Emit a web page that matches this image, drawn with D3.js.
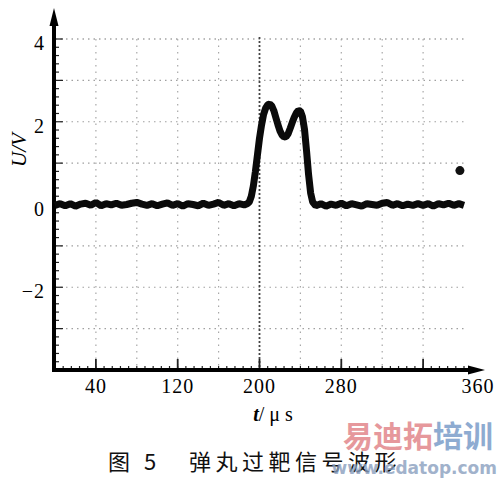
<!DOCTYPE html>
<html>
<head>
<meta charset="utf-8">
<script src="https://cdn.jsdelivr.net/npm/d3@7"></script>
<style>
  body { margin: 0; background: #fff; }
  svg { display: block; }
  .tickLabel { font-family: "Liberation Serif", "DejaVu Serif", serif; font-size: 20px; fill: #000; letter-spacing: 1px; }
</style>
</head>
<body>
<div id="chart"></div>
<script>
// Data

var timeUs = [0, 5, 10, 15, 20, 25, 30, 35, 40, 45, 50, 55, 60, 65, 70, 75, 80, 85, 90, 95,
  100, 105, 110, 115, 120, 125, 130, 135, 140, 145, 150, 155, 160, 165, 170, 175, 180, 185,
  188, 190, 192, 194, 196, 198, 200, 202, 204, 206, 208, 210, 212, 214, 216, 218, 220,
  222, 224, 226, 228, 230, 232, 234, 236, 238, 240, 242, 244, 246, 248, 250, 252,
  255, 260, 265, 270, 275, 280, 285, 290, 295, 300, 305, 310, 315, 320, 325, 330, 335,
  340, 345, 350, 355, 360, 365, 370, 375, 380, 385, 390, 395, 400];

var voltage = [-0.02, 0.02, -0.03, 0.02, -0.04, 0.01, 0.03, -0.02, 0.05, -0.03, 0.02, -0.01, 0.03, -0.02, 0.0, 0.03, 0.05, 0.01, -0.02, 0.02,
  -0.03, 0.01, 0.04, -0.02, 0.02, -0.04, 0.02, 0.0, -0.03, 0.03, -0.02, 0.01, 0.05, -0.02, 0.02, -0.03, 0.02, -0.01,
  0.02, 0.06, 0.2, 0.45, 0.8, 1.2, 1.6, 1.92, 2.18, 2.33, 2.41, 2.43, 2.38, 2.27, 2.1, 1.93, 1.78,
  1.68, 1.63, 1.64, 1.71, 1.84, 1.98, 2.11, 2.21, 2.27, 2.26, 2.12, 1.82, 1.3, 0.72, 0.28, 0.06,
  -0.03, 0.02, -0.04, 0.01, -0.02, 0.03, -0.03, 0.02, -0.01, -0.04, 0.02, 0.0, -0.02, 0.03, 0.05, -0.02, 0.02,
  -0.03, 0.01, -0.02, 0.02, -0.02, 0.02, -0.04, 0.02, -0.01, 0.03, -0.02, 0.02, -0.02];

var markerPoint = [396, 0.82];

var xTickValues = [40, 120, 200, 280, 360];
var xTickLabels = ['40', '120', '200', '280', '360'];
var yTickValues = [4, 2, 0, -2];
var yTickLabels = ['4', '2', '0', '\u22122'];
var xGridValues = [40, 80, 120, 160, 240, 280, 320, 360];
var yGridValues = [4, 3, 2, 1, -1, -2, -3];

// Set up the chart area

var svgWidth = 502;
var svgHeight = 479;

var svg = d3.select('#chart')
  .append('svg')
  .attr('width', svgWidth)
  .attr('height', svgHeight);

var xScale = d3.scaleLinear().domain([0, 400]).range([55, 464]);
var yScale = d3.scaleLinear().domain([-4, 4]).range([370, 39]);

// dotted grid
var grid = svg.append('g').attr('class', 'grid');

grid.selectAll('line.h')
  .data(yGridValues)
  .enter()
  .append('line')
  .attr('x1', xScale(0))
  .attr('x2', xScale(400))
  .attr('y1', function(d){ return yScale(d); })
  .attr('y2', function(d){ return yScale(d); })
  .attr('stroke', function(d){ return d === 4 ? '#777' : '#a0a0a0'; })
  .attr('stroke-width', 1.2)
  .attr('stroke-dasharray', '1.5,4');

grid.selectAll('line.v')
  .data(xGridValues)
  .enter()
  .append('line')
  .attr('x1', function(d){ return xScale(d); })
  .attr('x2', function(d){ return xScale(d); })
  .attr('y1', yScale(4))
  .attr('y2', yScale(-4))
  .attr('stroke', '#a8a8a8')
  .attr('stroke-width', 1.2)
  .attr('stroke-dasharray', '1.5,5');

// trigger line at 200 is darker
grid.append('line')
  .attr('x1', xScale(200))
  .attr('x2', xScale(200))
  .attr('y1', yScale(4) - 2)
  .attr('y2', yScale(-4))
  .attr('stroke', '#444')
  .attr('stroke-width', 1.8)
  .attr('stroke-dasharray', '2,2');

// minor ticks along axes
var yMinor = d3.range(-40, 41, 2).map(function(v){ return v / 10; });
svg.append('g').selectAll('line')
  .data(yMinor)
  .enter()
  .append('line')
  .attr('x1', xScale(0))
  .attr('x2', function(d){ return xScale(0) + (d % 1 === 0 ? 8 : 4); })
  .attr('y1', function(d){ return yScale(d); })
  .attr('y2', function(d){ return yScale(d); })
  .attr('stroke', '#222')
  .attr('stroke-width', 1.2);

var xMinor = d3.range(0, 401, 8);
svg.append('g').selectAll('line')
  .data(xMinor)
  .enter()
  .append('line')
  .attr('x1', function(d){ return xScale(d); })
  .attr('x2', function(d){ return xScale(d); })
  .attr('y1', yScale(-4))
  .attr('y2', yScale(-4) - 4)
  .attr('stroke', '#222')
  .attr('stroke-width', 1.2);

svg.append('g').selectAll('line')
  .data(xTickValues)
  .enter()
  .append('line')
  .attr('x1', function(d){ return xScale(d); })
  .attr('x2', function(d){ return xScale(d); })
  .attr('y1', yScale(-4))
  .attr('y2', yScale(-4) - 11)
  .attr('stroke', '#222')
  .attr('stroke-width', 1.8);

// axes lines with arrows
svg.append('line')
  .attr('x1', 54).attr('x2', 54)
  .attr('y1', 372).attr('y2', 18)
  .attr('stroke', '#000').attr('stroke-width', 4);
svg.append('path')
  .attr('d', 'M54,8 L49.5,26 L58.5,26 Z')
  .attr('fill', '#000');

svg.append('line')
  .attr('x1', 52).attr('x2', 474)
  .attr('y1', 370).attr('y2', 370)
  .attr('stroke', '#000').attr('stroke-width', 4);
svg.append('path')
  .attr('d', 'M485,370 L468,365.5 L468,374.5 Z')
  .attr('fill', '#000');

// signal trace
var line = d3.line()
  .x(function(d){ return xScale(d[0]); })
  .y(function(d){ return yScale(d[1]); });

var signal = timeUs.map(function(t, i){ return [t, voltage[i]]; });

svg.append('path')
  .datum(signal)
  .attr('d', line)
  .attr('fill', 'none')
  .attr('stroke', '#0a0a0a')
  .attr('stroke-width', 7)
  .attr('stroke-linejoin', 'bevel')
  .attr('stroke-linecap', 'butt');

svg.append('circle')
  .attr('cx', xScale(markerPoint[0]))
  .attr('cy', yScale(markerPoint[1]))
  .attr('r', 4.5)
  .attr('fill', '#111');

// tick labels
svg.append('g').selectAll('text')
  .data(xTickValues)
  .enter()
  .append('text')
  .attr('class', 'tickLabel')
  .attr('x', function(d, i){ return i === xTickValues.length - 1 ? 478 : xScale(d); })
  .attr('y', 393)
  .attr('text-anchor', 'middle')
  .text(function(d, i){ return xTickLabels[i]; });

svg.append('g').selectAll('text')
  .data(yTickValues)
  .enter()
  .append('text')
  .attr('class', 'tickLabel')
  .attr('x', 45)
  .attr('y', function(d){ return yScale(d) + 11; })
  .attr('text-anchor', 'end')
  .text(function(d, i){ return yTickLabels[i]; });

// axis titles
svg.append('text')
  .attr('transform', 'translate(26,150)rotate(-90)')
  .attr('text-anchor', 'middle')
  .style('font-family', '"Liberation Serif", serif')
  .style('font-style', 'italic')
  .style('font-size', '21px')
  .text('U/V');

var xTitle = svg.append('text')
  .attr('x', 273)
  .attr('y', 421)
  .attr('text-anchor', 'middle')
  .style('font-family', '"Liberation Serif", serif')
  .style('font-size', '20px');
xTitle.append('tspan').style('font-style', 'italic').style('font-weight', 'bold').text('t');
xTitle.append('tspan').text('/ \u03bc s');

// caption
svg.append('text')
  .attr('x', 108)
  .attr('y', 470)
  .style('font-family', '"Noto Sans CJK SC", sans-serif')
  .style('font-size', '22px')
  .style('letter-spacing', '4.5px')
  .style('fill', '#111')
  .text('图\u00a05\u00a0\u00a0\u00a0弹丸过靶信号波形');

// watermark
var wm = svg.append('g').attr('opacity', 0.8);
var wmTitle = wm.append('text')
  .attr('x', 343)
  .attr('y', 447)
  .style('font-family', '"Noto Sans CJK SC", sans-serif')
  .style('font-weight', 'bold')
  .style('font-size', '30px');
wmTitle.append('tspan').style('fill', '#e07f84').text('易迪拓');
wmTitle.append('tspan').style('fill', '#7397c6').text('培训');

wm.append('text')
  .attr('x', 497)
  .attr('y', 474)
  .attr('text-anchor', 'end')
  .style('font-family', '"DejaVu Sans", sans-serif')
  .style('font-weight', 'bold')
  .style('font-size', '17px')
  .style('fill', '#8aa0bf')
  .text('www.edatop.com');
</script>
</body>
</html>
